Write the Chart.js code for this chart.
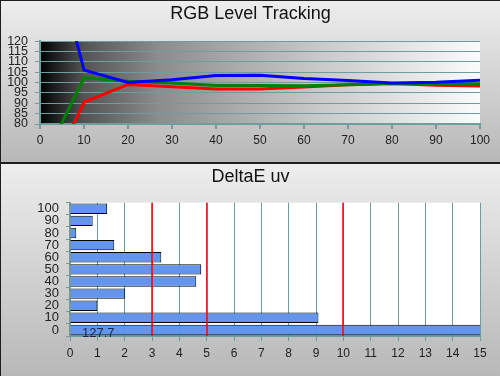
<!DOCTYPE html>
<html>
<head>
<meta charset="utf-8">
<script src="https://cdn.jsdelivr.net/npm/chart.js@4.4.1/dist/chart.umd.min.js"></script>
<style>
  html, body { margin: 0; padding: 0; background: #1e1e1e; }
  #wrap { position: relative; width: 500px; height: 376px; background: #1e1e1e; overflow: hidden; }
  .panel { position: absolute; left: 1px; width: 499px; background: linear-gradient(#ededed, #b8b8b8); }
  #topPanel { top: 1px; height: 161px; }
  #bottomPanel { top: 164px; height: 212px; }
  canvas { display: block; }
</style>
</head>
<body>
<div id="wrap">
  <div class="panel" id="topPanel"><canvas id="rgbChart" width="499" height="161"></canvas></div>
  <div class="panel" id="bottomPanel"><canvas id="deltaChart" width="499" height="212"></canvas></div>
</div>
<script>
// RGB level tracking (stimulus level in %)
const levels = [0, 10, 20, 30, 40, 50, 60, 70, 80, 90, 100];
const redLevel = [46.5, 90.6, 99.1, 98.0, 96.9, 96.9, 97.8, 98.9, 99.5, 98.7, 98.3];
const greenLevel = [59, 102.4, 100.6, 99.8, 98.6, 98.6, 98.5, 98.9, 99.6, 99.4, 99.3];
const blueLevel = [188, 106, 100, 101.4, 103.4, 103.5, 102, 101, 99.8, 100.2, 101.1];

// DeltaE uv per grey level
const greyLevels = ["0", "10", "20", "30", "40", "50", "60", "70", "80", "90", "100"];
const deltaE = [127.7, 9.09, 1.0, 2.02, 4.62, 4.8, 3.34, 1.62, 0.23, 0.83, 1.36];
const limitLines = [3, 5, 10];

const teal = "#6e9d9b";
const fontFamily = "Arial, 'Liberation Sans', sans-serif";
const titleFont = { family: fontFamily, size: 18, weight: "normal" };

// Fill the plot area before grid lines are drawn
const areaFill = {
  id: "areaFill",
  beforeDraw(chart, args, opts) {
    const { ctx, chartArea } = chart;
    ctx.save();
    if (opts.gradient) {
      const g = ctx.createLinearGradient(chartArea.left, 0, chartArea.right, 0);
      g.addColorStop(0, "#000000");
      g.addColorStop(0.1, "#545454");
      g.addColorStop(0.27, "#8c8c8c");
      g.addColorStop(0.45, "#ababab");
      g.addColorStop(0.65, "#cbcbcb");
      g.addColorStop(1, "#fbfbfb");
      ctx.fillStyle = g;
    } else {
      ctx.fillStyle = opts.color || "#fff";
    }
    ctx.fillRect(chartArea.left, chartArea.top, chartArea.right - chartArea.left, chartArea.bottom - chartArea.top);
    ctx.restore();
  },
};

// Red limit lines and overflow value label on top of the bars
const limitMarks = {
  id: "limitMarks",
  afterDatasetsDraw(chart) {
    const { ctx, chartArea, scales } = chart;
    ctx.save();
    ctx.strokeStyle = "#ff0000";
    ctx.lineWidth = 1.5;
    limitLines.forEach((v) => {
      const x = Math.round(scales.x.getPixelForValue(v));
      ctx.beginPath();
      ctx.moveTo(x, chartArea.top);
      ctx.lineTo(x, chartArea.bottom);
      ctx.stroke();
    });
    ctx.fillStyle = "#1b2748";
    ctx.font = "13px " + fontFamily;
    ctx.textBaseline = "middle";
    deltaE.forEach((v, i) => {
      if (v > scales.x.max) {
        const y = scales.y.getPixelForValue(i) + 3;
        ctx.fillText(v.toFixed(1), scales.x.getPixelForValue(0) + 12, y);
      }
    });
    ctx.restore();
  },
};

// empty right-hand axis, just keeps 20px free so the title stays centred on the panel
const spacerAxis = {
  position: "right",
  afterFit: (s) => { s.width = 20; },
  grid: { display: false },
  border: { display: false },
  ticks: { display: false },
};

new Chart(document.getElementById("rgbChart"), {
  type: "line",
  data: {
    datasets: [
      { data: levels.map((x, i) => ({ x: x, y: blueLevel[i] })), borderColor: "#0000ff" },
      { data: levels.map((x, i) => ({ x: x, y: greenLevel[i] })), borderColor: "#008000" },
      { data: levels.map((x, i) => ({ x: x, y: redLevel[i] })), borderColor: "#ff0000" },
    ].map((d) => ({ ...d, borderWidth: 3, pointRadius: 0, tension: 0, clip: 0, fill: false })),
  },
  options: {
    responsive: false,
    animation: false,
    layout: { padding: 0 },
    plugins: {
      legend: { display: false },
      tooltip: { enabled: false },
      title: {
        display: true,
        text: "RGB Level Tracking",
        color: "#111",
        font: titleFont,
        padding: { top: 2.5, bottom: 16 },
      },
      areaFill: { gradient: true },
    },
    scales: {
      x: {
        type: "linear",
        min: 0,
        max: 100,
        afterFit: (s) => { s.height = 38; },
        grid: { drawOnChartArea: false, color: teal, lineWidth: 2, tickLength: 5 },
        border: { color: teal, width: 2 },
        ticks: { stepSize: 10, color: "#222", font: { family: fontFamily, size: 12 }, padding: 4, maxRotation: 0 },
      },
      y: {
        min: 80,
        max: 120,
        afterFit: (s) => { s.width = 39; },
        grid: { color: teal, lineWidth: 1, tickLength: 5 },
        border: { color: teal, width: 2 },
        ticks: { stepSize: 5, autoSkip: false, color: "#222", font: { family: fontFamily, size: 12.5 }, padding: 7 },
      },
      right: { ...spacerAxis, type: "linear", min: 80, max: 120 },
    },
  },
  plugins: [areaFill],
});

new Chart(document.getElementById("deltaChart"), {
  type: "bar",
  data: {
    labels: greyLevels,
    datasets: [
      {
        data: deltaE,
        backgroundColor: "#6495ed",
        borderColor: "#000000",
        borderWidth: 1,
        barPercentage: 0.86,
        categoryPercentage: 1,
      },
    ],
  },
  options: {
    indexAxis: "y",
    responsive: false,
    animation: false,
    layout: { padding: 0 },
    plugins: {
      legend: { display: false },
      tooltip: { enabled: false },
      title: {
        display: true,
        text: "DeltaE uv",
        color: "#111",
        font: titleFont,
        padding: { top: 2.2, bottom: 14.9 },
      },
      areaFill: { color: "#ffffff" },
    },
    scales: {
      x: {
        type: "linear",
        min: 0,
        max: 15,
        afterFit: (s) => { s.height = 40; },
        grid: { color: teal, lineWidth: 1, tickLength: 5 },
        border: { color: teal, width: 2 },
        ticks: { stepSize: 1, color: "#222", font: { family: fontFamily, size: 12 }, padding: 5, maxRotation: 0 },
      },
      y: {
        reverse: true,
        afterFit: (s) => { s.width = 69; },
        grid: { drawOnChartArea: false, color: teal, lineWidth: 1, tickLength: 4 },
        border: { color: teal, width: 2 },
        ticks: { color: "#222", font: { family: fontFamily, size: 13 }, padding: 7, autoSkip: false },
      },
      right: { ...spacerAxis, type: "linear", min: 0, max: 1 },
    },
  },
  plugins: [areaFill, limitMarks],
});
</script>
</body>
</html>
